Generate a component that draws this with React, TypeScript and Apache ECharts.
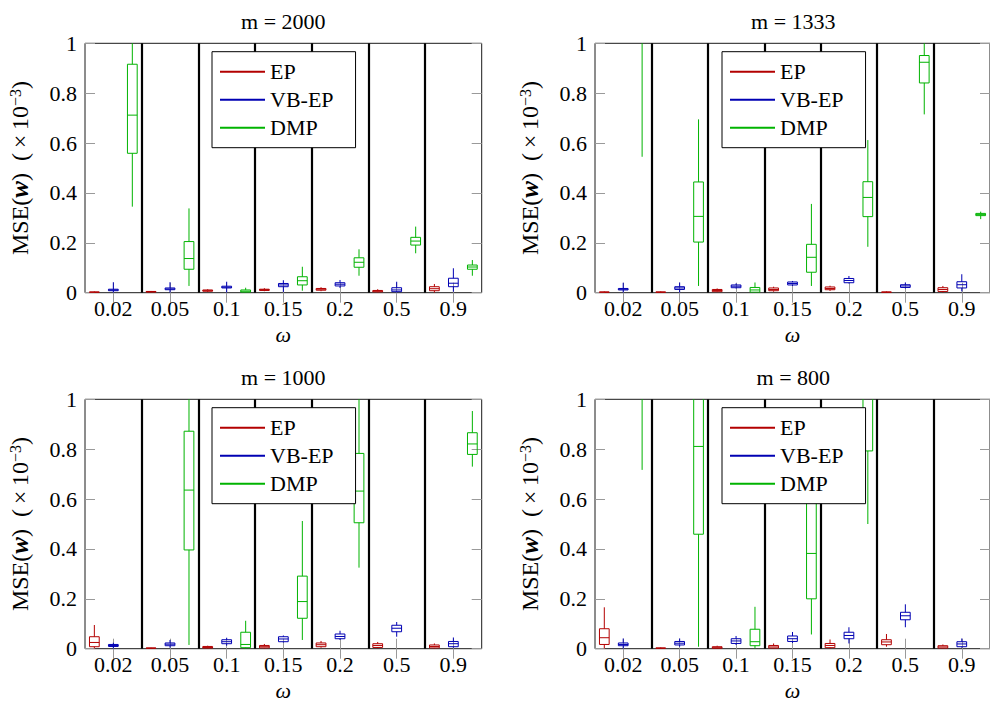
import React, { useEffect, useRef } from 'react';
import * as echarts from 'echarts';

const omegaLabels = ['0.02', '0.05', '0.1', '0.15', '0.2', '0.5', '0.9'];
const methodNames = ['EP', 'VB-EP', 'DMP'];
const panelTitles = ['m = 2000', 'm = 1333', 'm = 1000', 'm = 800'];

// each row: [min, q1, median, q3, max] for one ω, in units of 1e-3
const m2000EP = [
  [0.000, 0.001, 0.002, 0.003, 0.005],
  [0.001, 0.002, 0.004, 0.005, 0.007],
  [0.003, 0.006, 0.008, 0.011, 0.014],
  [0.006, 0.009, 0.012, 0.014, 0.018],
  [0.006, 0.010, 0.014, 0.017, 0.022],
  [0.001, 0.003, 0.006, 0.009, 0.014],
  [0.000, 0.008, 0.016, 0.024, 0.035],
];
const m2000VB = [
  [0.000, 0.008, 0.011, 0.014, 0.042],
  [0.000, 0.012, 0.015, 0.019, 0.042],
  [0.000, 0.019, 0.022, 0.026, 0.044],
  [0.003, 0.024, 0.031, 0.037, 0.050],
  [0.019, 0.027, 0.034, 0.040, 0.051],
  [0.000, 0.004, 0.011, 0.020, 0.044],
  [0.004, 0.024, 0.038, 0.058, 0.098],
];
const m2000DMP = [
  [0.345, 0.559, 0.712, 0.916, 1.150],
  [0.027, 0.094, 0.137, 0.205, 0.338],
  [0.000, 0.002, 0.006, 0.011, 0.020],
  [0.008, 0.031, 0.048, 0.064, 0.104],
  [0.068, 0.102, 0.122, 0.140, 0.174],
  [0.158, 0.191, 0.207, 0.222, 0.265],
  [0.068, 0.094, 0.103, 0.111, 0.131],
];

const m1333EP = [
  [0.000, 0.001, 0.002, 0.003, 0.005],
  [0.000, 0.001, 0.002, 0.003, 0.005],
  [0.002, 0.004, 0.009, 0.013, 0.017],
  [0.004, 0.008, 0.013, 0.019, 0.024],
  [0.007, 0.012, 0.017, 0.023, 0.028],
  [0.000, 0.001, 0.002, 0.003, 0.005],
  [0.000, 0.005, 0.013, 0.020, 0.027],
];
const m1333VB = [
  [0.000, 0.011, 0.014, 0.017, 0.040],
  [0.000, 0.013, 0.019, 0.024, 0.041],
  [0.017, 0.020, 0.026, 0.031, 0.037],
  [0.027, 0.031, 0.037, 0.043, 0.047],
  [0.037, 0.040, 0.049, 0.057, 0.067],
  [0.017, 0.021, 0.027, 0.032, 0.041],
  [0.005, 0.019, 0.032, 0.044, 0.074],
];
const m1333DMP = [
  [0.545, 1.200, 1.500, 1.800, 2.400],
  [0.027, 0.203, 0.306, 0.444, 0.695],
  [0.000, 0.002, 0.011, 0.021, 0.041],
  [0.027, 0.082, 0.142, 0.194, 0.356],
  [0.184, 0.305, 0.382, 0.445, 0.612],
  [0.715, 0.841, 0.924, 0.951, 1.050],
  [0.295, 0.309, 0.313, 0.318, 0.325],
];

const m1000EP = [
  [0.000, 0.008, 0.025, 0.048, 0.095],
  [0.000, 0.001, 0.002, 0.003, 0.004],
  [0.000, 0.002, 0.005, 0.009, 0.012],
  [0.000, 0.003, 0.008, 0.013, 0.019],
  [0.004, 0.008, 0.016, 0.023, 0.031],
  [0.001, 0.005, 0.013, 0.020, 0.027],
  [0.000, 0.003, 0.009, 0.015, 0.021],
];
const m1000VB = [
  [0.000, 0.009, 0.013, 0.017, 0.024],
  [0.004, 0.012, 0.018, 0.023, 0.035],
  [0.012, 0.020, 0.028, 0.036, 0.044],
  [0.025, 0.028, 0.039, 0.048, 0.053],
  [0.035, 0.040, 0.049, 0.059, 0.072],
  [0.048, 0.068, 0.082, 0.094, 0.107],
  [0.004, 0.008, 0.020, 0.029, 0.045],
];
const m1000DMP = [
  [1.200, 1.600, 2.000, 2.500, 3.000],
  [0.015, 0.396, 0.636, 0.872, 1.300],
  [0.000, 0.004, 0.017, 0.066, 0.112],
  [0.035, 0.122, 0.189, 0.291, 0.512],
  [0.325, 0.505, 0.632, 0.783, 1.150],
  [1.100, 1.400, 1.700, 2.000, 2.500],
  [0.730, 0.779, 0.821, 0.866, 0.953],
];

const m800EP = [
  [0.000, 0.017, 0.044, 0.080, 0.166],
  [0.000, 0.001, 0.002, 0.003, 0.005],
  [0.000, 0.001, 0.004, 0.008, 0.012],
  [0.000, 0.002, 0.007, 0.013, 0.021],
  [0.000, 0.004, 0.013, 0.021, 0.037],
  [0.008, 0.016, 0.027, 0.036, 0.059],
  [0.000, 0.002, 0.007, 0.012, 0.017],
];
const m800VB = [
  [0.000, 0.012, 0.017, 0.023, 0.041],
  [0.008, 0.015, 0.022, 0.029, 0.041],
  [0.015, 0.021, 0.031, 0.040, 0.051],
  [0.023, 0.029, 0.040, 0.051, 0.067],
  [0.021, 0.040, 0.053, 0.066, 0.086],
  [0.086, 0.116, 0.132, 0.146, 0.178],
  [0.004, 0.008, 0.019, 0.028, 0.041],
];
const m800DMP = [
  [0.717, 1.300, 1.600, 2.000, 2.600],
  [0.008, 0.459, 0.811, 1.200, 1.800],
  [0.000, 0.012, 0.028, 0.078, 0.168],
  [0.057, 0.200, 0.382, 0.680, 0.900],
  [0.500, 0.793, 1.050, 1.300, 2.000],
  [1.200, 1.500, 1.800, 2.200, 2.800],
  [1.100, 1.300, 1.500, 1.800, 2.300],
];

const panelData = [
  [m2000EP, m2000VB, m2000DMP],
  [m1333EP, m1333VB, m1333DMP],
  [m1000EP, m1000VB, m1000DMP],
  [m800EP, m800VB, m800DMP],
];

const colors = ['#b30000', '#0000b3', '#00b300'];
const offsets = [-0.335, 0, 0.335];
const FONT = "'Liberation Serif', 'Times New Roman', serif";
const FS = 22;
const NFS = 24;
const gridLefts = [85, 595, 85, 595];
const gridTops = [43.3, 43.3, 399.3, 399.3];
const GW = 396.7;
const GH = 249.4;

function makeRenderItem(offsetFrac: number, color: string) {
  return (params: any, api: any) => {
    const xi = api.value(0);
    const band = api.size([1, 0])[0];
    const cx = api.coord([xi, 0])[0] + offsetFrac * band;
    const hw = band * 0.086;
    const yv = (k: number) => api.coord([xi, api.value(k)])[1];
    const yMin = yv(1), yQ1 = yv(2), yMed = yv(3), yQ3 = yv(4), yMax = yv(5);
    const ls = { stroke: color, lineWidth: 1, fill: 'none' };
    return {
      type: 'group',
      children: [
        { type: 'line', shape: { x1: cx, y1: yMin, x2: cx, y2: yQ1 }, style: ls },
        { type: 'line', shape: { x1: cx, y1: yQ3, x2: cx, y2: yMax }, style: ls },
        { type: 'rect', shape: { x: cx - hw, y: yQ3, width: 2 * hw, height: yQ1 - yQ3 }, style: ls },
        { type: 'line', shape: { x1: cx - hw, y1: yMed, x2: cx + hw, y2: yMed }, style: ls },
      ],
    };
  };
}

export default function App() {
  const ref = useRef<HTMLDivElement>(null);
  useEffect(() => {
    if (!ref.current) return;
    const chart = echarts.init(ref.current, undefined, { renderer: 'svg' });
    const grids: any[] = [];
    const xAxes: any[] = [];
    const yAxes: any[] = [];
    const titles: any[] = [];
    const legends: any[] = [];
    const series: any[] = [];
    const tickStyle = { color: '#9a9a9a', width: 1 };
    for (let p = 0; p < 4; p++) {
      grids.push({
        left: gridLefts[p], top: gridTops[p], width: GW, height: GH,
        show: true, borderColor: '#1a1a1a', borderWidth: 1, backgroundColor: 'transparent',
      });
      titles.push({
        text: panelTitles[p],
        left: gridLefts[p] + GW / 2,
        top: gridTops[p] - 33,
        textAlign: 'center',
        padding: 0,
        textStyle: { fontFamily: FONT, fontSize: FS, fontWeight: 'normal', color: '#000' },
      });
      xAxes.push({
        type: 'category', gridIndex: p, data: omegaLabels, position: 'bottom',
        axisLine: { show: false },
        axisTick: { show: true, inside: true, alignWithLabel: true, length: 10, interval: 0, lineStyle: tickStyle },
        axisLabel: { interval: 0, fontFamily: FONT, fontSize: FS, color: '#000', margin: 5 },
        splitLine: { show: true, interval: 0, showMinLine: false, showMaxLine: false, lineStyle: { color: '#000', width: 2.2 } },
        name: 'ω', nameLocation: 'middle', nameGap: 31,
        nameTextStyle: { fontFamily: FONT, fontSize: FS, fontStyle: 'italic', color: '#000' },
      });
      xAxes.push({
        type: 'category', gridIndex: p, data: omegaLabels, position: 'top',
        axisLine: { show: false },
        axisTick: { show: true, inside: true, alignWithLabel: true, length: 10, interval: 0, lineStyle: tickStyle },
        axisLabel: { show: false },
        splitLine: { show: false },
      });
      yAxes.push({
        type: 'value', gridIndex: p, min: 0, max: 1, interval: 0.2, position: 'left',
        axisLine: { show: false },
        axisTick: { show: true, inside: true, length: 10, lineStyle: tickStyle },
        axisLabel: { fontFamily: FONT, fontSize: FS, color: '#000', margin: 8 },
        splitLine: { show: false },
        name: '{n|MSE(}{b|w}{n|)  (\u2009×\u200910}{s|−3}{n|)}',
        nameLocation: 'middle', nameGap: 53,
        nameTextStyle: {
          color: '#000', fontFamily: FONT, fontSize: NFS,
          rich: {
            n: { fontFamily: FONT, fontSize: NFS, color: '#000' },
            b: { fontFamily: FONT, fontSize: NFS + 1, color: '#000', fontWeight: 'bold', fontStyle: 'italic' },
            s: { fontFamily: FONT, fontSize: 16, color: '#000', verticalAlign: 'top' },
          },
        },
      });
      yAxes.push({
        type: 'value', gridIndex: p, min: 0, max: 1, interval: 0.2, position: 'right',
        axisLine: { show: false },
        axisTick: { show: true, inside: true, length: 10, lineStyle: tickStyle },
        axisLabel: { show: false },
        splitLine: { show: false },
      });
      legends.push({
        orient: 'vertical',
        left: gridLefts[p] + 127,
        top: gridTops[p] + 8.4,
        data: methodNames.map((n) => ({ name: n, icon: 'rect' })),
        itemWidth: 45, itemHeight: 2, itemGap: 6,
        padding: [9, 22, 9, 8],
        backgroundColor: '#fff', borderColor: '#000', borderWidth: 1, borderRadius: 0,
        textStyle: { fontFamily: FONT, fontSize: FS, color: '#000' },
        selectedMode: false,
      });
      for (let s = 0; s < 3; s++) {
        const rows = panelData[p][s];
        series.push({
          type: 'custom',
          name: methodNames[s],
          xAxisIndex: 2 * p,
          yAxisIndex: 2 * p,
          clip: true,
          color: colors[s],
          itemStyle: { color: colors[s] },
          renderItem: makeRenderItem(offsets[s], colors[s]),
          encode: { x: 0, y: [1, 2, 3, 4, 5] },
          data: rows.map((r, i) => [i, ...r]),
          silent: true,
        });
      }
    }
    chart.setOption({
      animation: false,
      backgroundColor: '#fff',
      title: titles,
      legend: legends,
      grid: grids,
      xAxis: xAxes,
      yAxis: yAxes,
      series,
    });
    return () => chart.dispose();
  }, []);
  return (
    <div
      ref={ref}
      style={{ position: 'fixed', left: 0, top: 0, width: 990, height: 704 }}
    />
  );
}
